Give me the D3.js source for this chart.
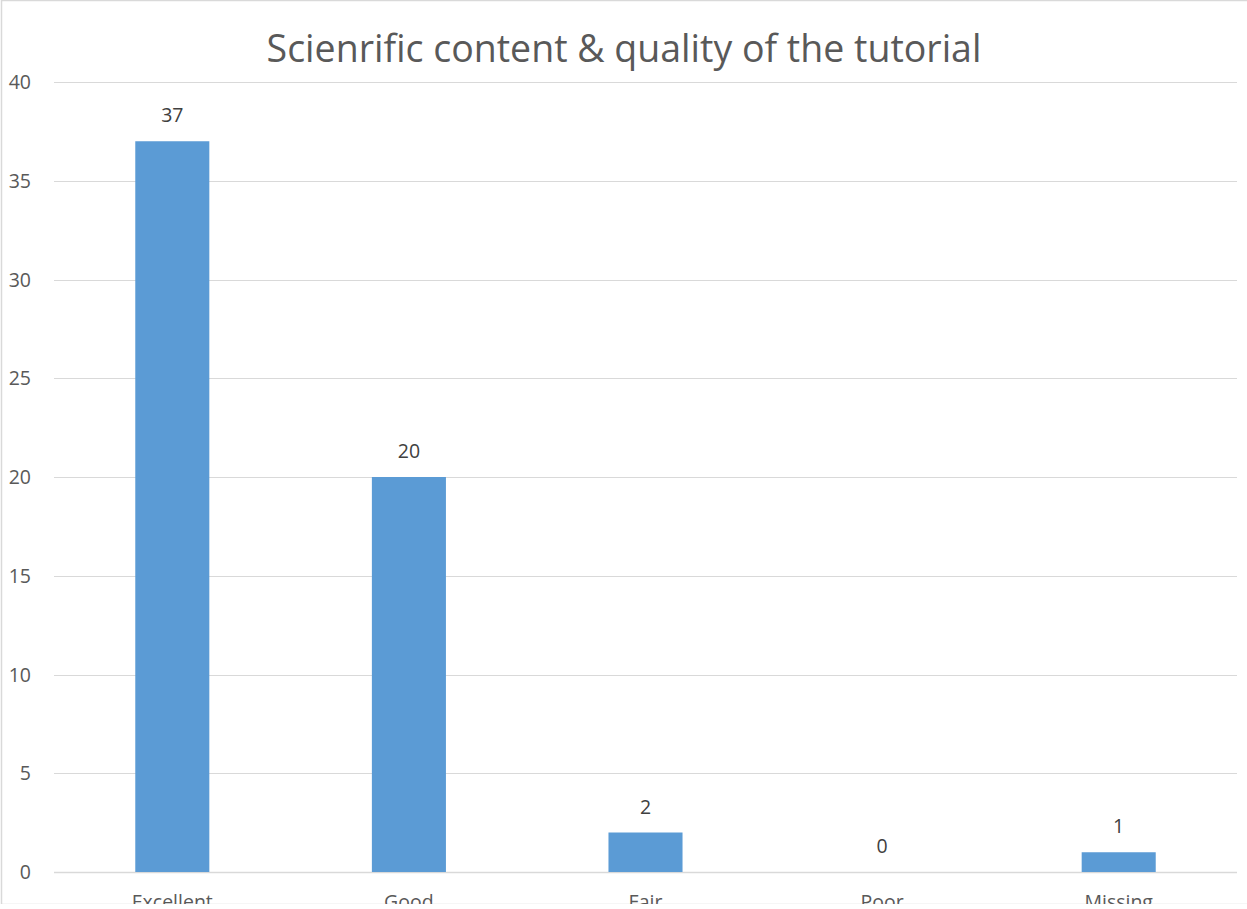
<!DOCTYPE html>
<html><head><meta charset="utf-8">
<script src="https://cdn.jsdelivr.net/npm/d3@7"></script>
<style>body{margin:0;background:#fff}svg{display:block}text{font-family:"Open Sans",sans-serif}</style>
</head><body><svg id="c" width="1247" height="909"></svg>
<script>
const categories = ["Excellent","Good","Fair","Poor","Missing"];
const values = [37,20,2,0,1];
const yTicks = [0,5,10,15,20,25,30,35,40];
const title = "Scienrific content & quality of the tutorial";

const svg = d3.select("#c");
const W = 1247, H = 909;
const m = {left:54, right:10, top:82, bottom:37};
const x = d3.scaleBand().domain(categories).range([m.left, W - m.right]).paddingInner(0.687).paddingOuter(0.3435);
const y = d3.scaleLinear().domain([0,40]).range([H - m.bottom, m.top]);

svg.append("defs").append("clipPath").attr("id","clip").append("rect").attr("x",0).attr("y",0).attr("width",W).attr("height",904);
const g = svg.append("g").attr("clip-path","url(#clip)");

// border
g.append("rect").attr("x",1.5).attr("y",0.5).attr("width",W+5).attr("height",904).attr("fill","none").attr("stroke","#d9d9d9").attr("stroke-width",1.5);

// gridlines
g.append("g").selectAll("line").data(yTicks).join("line")
  .attr("x1",m.left).attr("x2",W-m.right)
  .attr("y1",d=>Math.round(y(d))+0.5).attr("y2",d=>Math.round(y(d))+0.5)
  .attr("stroke","#d9d9d9").attr("stroke-width",d=>d===0?1.5:1);

// y tick labels
g.append("g").selectAll("text").data(yTicks).join("text")
  .attr("x",31).attr("y",d=>y(d)+7).attr("text-anchor","end")
  .attr("font-size",19.5).attr("fill","#595959").text(d=>d);

// bars
g.append("g").selectAll("rect").data(values).join("rect")
  .attr("x",(d,i)=>x(categories[i])).attr("width",x.bandwidth())
  .attr("y",d=>y(d)).attr("height",d=>y(0)-y(d)).attr("fill","#5b9bd5");

// value labels
g.append("g").selectAll("text").data(values).join("text")
  .attr("x",(d,i)=>x(categories[i])+x.bandwidth()/2).attr("y",d=>y(d)-19)
  .attr("text-anchor","middle").attr("font-size",19.5).attr("fill","#404040").text(d=>d);

// x labels (cut off at the bottom edge, as in the reference)
g.append("g").selectAll("text").data(categories).join("text")
  .attr("x",d=>x(d)+x.bandwidth()/2).attr("y",909)
  .attr("text-anchor","middle").attr("font-size",19.5).attr("fill","#595959").text(d=>d);

// title
g.append("text").attr("x",624).attr("y",62).attr("text-anchor","middle")
  .attr("font-size",37.5).attr("fill","#595959").text(title);
</script></body></html>
